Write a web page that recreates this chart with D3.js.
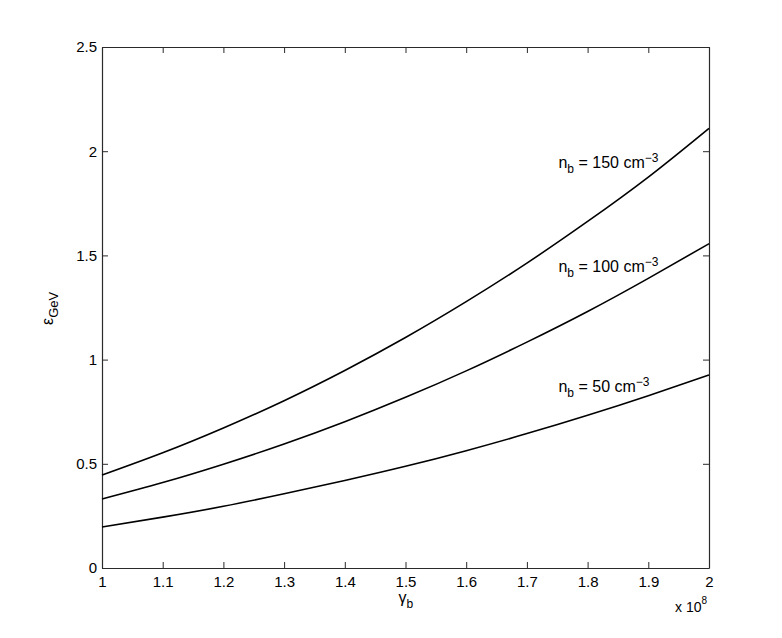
<!DOCTYPE html>
<html>
<head>
<meta charset="utf-8">
<script src="https://cdn.jsdelivr.net/npm/d3@7"></script>
<style>
  html, body { margin: 0; padding: 0; background: #fff; }
  svg text { font-family: "Liberation Sans", Arial, Helvetica, sans-serif; fill: #000; }
</style>
</head>
<body>
<svg id="chart" width="782" height="638"></svg>
<script>
// ---- data ----
const gammaValues = [1.0, 1.1, 1.2, 1.3, 1.4, 1.5, 1.6, 1.7, 1.8, 1.9, 2.0]; // x 10^8
const eps150 = [0.446, 0.553, 0.672, 0.803, 0.948, 1.106, 1.278, 1.463, 1.663, 1.876, 2.110];
const eps100 = [0.331, 0.410, 0.498, 0.595, 0.702, 0.819, 0.946, 1.084, 1.231, 1.390, 1.556];
const eps50  = [0.197, 0.244, 0.296, 0.356, 0.420, 0.488, 0.563, 0.645, 0.733, 0.827, 0.926];
const seriesNames = ["150", "100", "50"];
const labelX = [1.752, 1.752, 1.752];
const labelY = [1.919, 1.420, 0.845];
const xTicks = [1, 1.1, 1.2, 1.3, 1.4, 1.5, 1.6, 1.7, 1.8, 1.9, 2];
const yTicks = [0, 0.5, 1, 1.5, 2, 2.5];

const series = [eps150, eps100, eps50];

const svg = d3.select("#chart");
const mLeft = 102, mRight = 709, mTop = 47, mBottom = 568;

const x = d3.scaleLinear().domain([1, 2]).range([mLeft, mRight]);
const y = d3.scaleLinear().domain([0, 2.5]).range([mBottom, mTop]);

const axisColor = "#2a2a2a";
const tickLen = 6;

// axes with inward ticks (all four sides)
const gB = svg.append("g").attr("transform", `translate(0,${mBottom})`)
  .call(d3.axisBottom(x).tickValues(xTicks).tickSizeInner(-tickLen).tickSizeOuter(0).tickPadding(8)
    .tickFormat(d => d3.format("")(+d.toFixed(1))));
const gT = svg.append("g").attr("transform", `translate(0,${mTop})`)
  .call(d3.axisTop(x).tickValues(xTicks).tickSizeInner(-tickLen).tickSizeOuter(0).tickFormat(""));
const gL = svg.append("g").attr("transform", `translate(${mLeft},0)`)
  .call(d3.axisLeft(y).tickValues(yTicks).tickSizeInner(-tickLen).tickSizeOuter(0).tickPadding(5)
    .tickFormat(d => d3.format("")(d)));
const gR = svg.append("g").attr("transform", `translate(${mRight},0)`)
  .call(d3.axisRight(y).tickValues(yTicks).tickSizeInner(-tickLen).tickSizeOuter(0).tickFormat(""));

[gB, gT, gL, gR].forEach(g => {
  g.select(".domain").attr("stroke", axisColor).attr("stroke-width", 1.2);
  g.selectAll(".tick line").attr("stroke", axisColor).attr("stroke-width", 1);
  g.selectAll(".tick text").attr("font-size", 15).attr("fill", "#000")
    .attr("font-family", "'Liberation Sans', Arial, sans-serif");
});

// curves
const line = d3.line()
  .x((d, i) => x(gammaValues[i]))
  .y(d => y(d))
  .curve(d3.curveNatural);

svg.append("g").selectAll("path").data(series).join("path")
  .attr("d", d => line(d))
  .attr("fill", "none")
  .attr("stroke", "#000")
  .attr("stroke-width", 1.6);

// curve labels
seriesNames.forEach((name, i) => {
  const t = svg.append("text")
    .attr("x", x(labelX[i]))
    .attr("y", y(labelY[i]))
    .attr("font-size", 16);
  t.append("tspan").text("n");
  t.append("tspan").attr("font-size", 12).attr("dy", 5).text("b");
  t.append("tspan").attr("dy", -5).text(" = " + name + " cm");
  t.append("tspan").attr("font-size", 12).attr("dy", -6).text("\u22123");
});

// x axis label
const xl = svg.append("text")
  .attr("x", (mLeft + mRight) / 2 - 7)
  .attr("y", 603)
  .attr("font-size", 16);
xl.append("tspan").text("\u03B3");
xl.append("tspan").attr("font-size", 12).attr("dy", 5).text("b");

// exponent label
const ex = svg.append("text")
  .attr("x", 675)
  .attr("y", 611.5)
  .attr("font-size", 14);
ex.append("tspan").text("x 10");
ex.append("tspan").attr("font-size", 10).attr("dy", -8).text("8");

// y axis label
const yl = svg.append("text")
  .attr("transform", `translate(53,325) rotate(-90)`)
  .attr("font-size", 16);
yl.append("tspan").text("\u03B5");
yl.append("tspan").attr("font-size", 13).attr("dy", 5).text("GeV");
</script>
</body>
</html>
